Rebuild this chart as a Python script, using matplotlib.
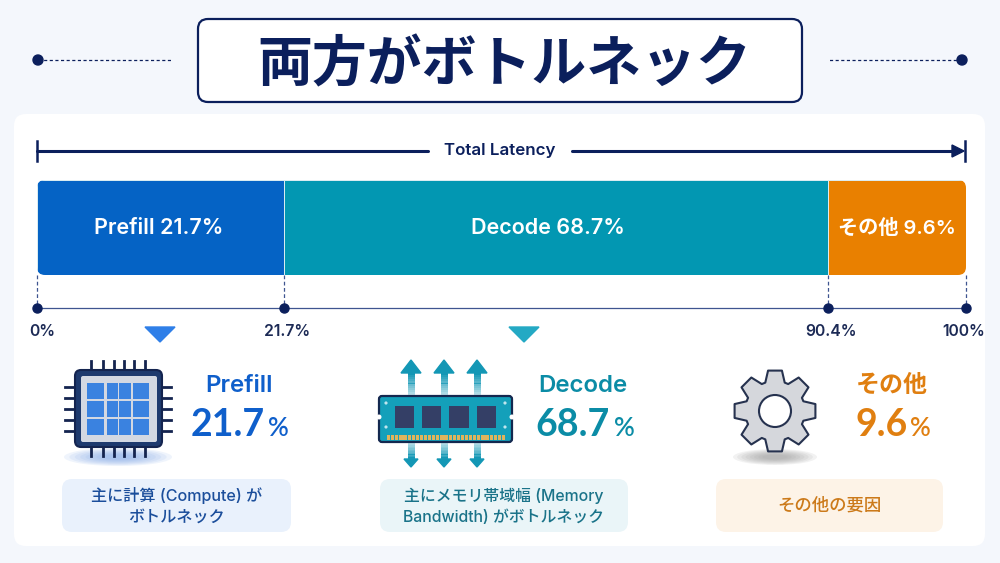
import numpy as np
import matplotlib
matplotlib.use("Agg")
import matplotlib.pyplot as plt
from matplotlib.patches import FancyBboxPatch, Rectangle, Ellipse, Circle, Polygon

plt.rcParams['font.family'] = ['Noto Sans CJK JP', 'DejaVu Sans']
LATIN = ['Inter', 'Noto Sans CJK JP', 'DejaVu Sans']
DIGITS = ['Lato', 'Noto Sans CJK JP', 'DejaVu Sans']

# Data
title = "両方がボトルネック"
total_label = "Total Latency"
names = ["Prefill", "Decode", "その他"]
percent_labels = ["21.7", "68.7", "9.6"]
# widths as drawn in the bar (the picture does not draw them to scale)
drawn_widths = [26.6, 58.5, 14.9]
tick_labels = ["0%", "21.7%", "90.4%", "100%"]
notes = ["主に計算 (Compute) が\nボトルネック",
         "主にメモリ帯域幅 (Memory\nBandwidth) がボトルネック",
         "その他の要因"]

# Colours
BG = "#F4F7FC"
NAVY = "#0B1F5C"
bar_colors = ["#0563C5", "#0297B2", "#E98000"]
text_colors = ["#0F5FCB", "#0B8CA6", "#E07F10"]
note_bg = ["#E9F1FC", "#EAF5F8", "#FDF3E7"]
note_fg = ["#1B4E9B", "#1A7389", "#CC7A1A"]
tri_colors = ["#2F7FE8", "#24A9C4"]

fig = plt.figure(figsize=(10, 5.63), dpi=100, facecolor=BG)

# Pixel canvas for everything decorative
bg = fig.add_axes([0, 0, 1, 1], zorder=0)
bg.set_xlim(0, 1000)
bg.set_ylim(563, 0)
bg.axis('off')


def round_box(x0, y0, x1, y1, r, **kw):
    p = FancyBboxPatch((x0 + r, y0 + r), x1 - x0 - 2 * r, y1 - y0 - 2 * r,
                       boxstyle=f"round,pad={r},rounding_size={r}", **kw)
    bg.add_patch(p)
    return p


# Header
round_box(198, 19, 802, 102, 10, fc="white", ec=NAVY, lw=1.6)
bg.text(504, 65, title, ha='center', va='center', fontsize=39.5, fontweight='bold', color=NAVY)
for x_dot, x_end in [(38, 173), (962, 827)]:
    bg.plot([x_dot, x_end], [60, 60], color=NAVY, lw=0.9, ls=(0, (2.5, 2)))
    bg.add_patch(Circle((x_dot, 60), 5, color=NAVY))

# White panel
round_box(14, 114, 985, 546, 12, fc="white", ec="none")

# Total latency arrow
bg.plot([37, 428], [151, 151], color=NAVY, lw=2.2, solid_capstyle='round')
bg.plot([572, 958], [151, 151], color=NAVY, lw=2.2, solid_capstyle='round')
bg.plot([37, 37], [141, 161], color=NAVY, lw=1.8)
bg.plot([965, 965], [141, 161], color=NAVY, lw=1.8)
bg.add_patch(Polygon([[952, 145], [964, 151], [952, 157]], color=NAVY))
bg.text(500, 151, total_label, ha='center', va='center', fontsize=12.2, fontweight='semibold',
        color=NAVY, family=LATIN)

# Stacked bar, with its own axes: bottom spine is the scale line
ax = fig.add_axes([37 / 1000, 1 - 308 / 563, 929 / 1000, 128 / 563], zorder=1)
ax.patch.set_alpha(0)
ax.set_xlim(0, 100)
ax.set_ylim(308, 180)
ax.set_yticks([])
ax.set_xticks([])
for side in ['top', 'left', 'right']:
    ax.spines[side].set_visible(False)
ax.spines['bottom'].set_color("#3F5590")
ax.spines['bottom'].set_linewidth(0.9)

clip = round_box(37, 180, 966, 275, 8, fc="none", ec="none")
edges = np.concatenate([[0], np.cumsum(drawn_widths)])
bars = ax.barh(227.5, drawn_widths, height=95, left=edges[:-1], color=bar_colors,
               edgecolor="#DDEEF2", linewidth=0.7)
for b in bars:
    b.set_clip_path(clip)
bar_text_shift = [-2, -8, 0]
bar_text_size = [15.5, 15.5, 14.5]
for i, name in enumerate(names):
    cx = edges[i] + drawn_widths[i] / 2
    ax.annotate(f"{name} {percent_labels[i]}%", (cx, 228), xytext=(bar_text_shift[i], 0),
                textcoords='offset pixels', ha='center', va='center',
                fontsize=bar_text_size[i], fontweight='semibold', color="white", family=LATIN)

label_shift = [5, 3, 3, -2]
for i, e in enumerate(edges):
    ax.plot([e, e], [275, 308], color="#3F5590", lw=0.9, ls=(0, (3, 2)), clip_on=False)
    ax.plot([e], [308], 'o', ms=6.5, color=NAVY, clip_on=False, zorder=5)
    ax.annotate(tick_labels[i], (e, 308), xytext=(label_shift[i], -24), textcoords='offset pixels',
                ha='center', va='center', fontsize=11.3, fontweight='semibold', color="#1C2A55",
                annotation_clip=False, family=LATIN)

# Markers under the bar
for cx, col in zip([160, 524], tri_colors):
    bg.add_patch(Polygon([[cx - 15, 327], [cx + 15, 327], [cx, 342]], color=col))


def soft_shadow(cx, cy, w, h, col):
    for k in np.linspace(1, 0.3, 8):
        bg.add_patch(Ellipse((cx, cy), w * k, h * k, fc=col, ec="none", alpha=0.12))


# Chip icon
soft_shadow(118, 457, 108, 18, "#7FA8E8")
for x in [91, 103, 114, 124, 134, 145]:
    bg.plot([x, x], [361, 456], color="#14244F", lw=2)
for y in [387, 398, 409, 420, 431]:
    bg.plot([65, 171], [y, y], color="#14244F", lw=2)
round_box(75, 370, 162, 447, 6, fc="#1E3A6E", ec="#14244F", lw=1.5, zorder=2)
round_box(81, 376, 157, 442, 2, fc="#D3D8E2", ec="none", zorder=3)
for y0, y1 in [(383, 399), (401, 417), (419, 435)]:
    for x0, x1 in [(87, 104), (107, 118), (119, 131), (133, 149)]:
        bg.add_patch(Rectangle((x0, y0), x1 - x0, y1 - y0, fc="#3A82E0", ec="none", zorder=4))

# RAM icon
TEAL = "#1397B5"
for x in [411, 444, 477]:
    for t in np.linspace(0, 1, 12):
        y0 = 373 + t * 23
        bg.add_patch(Rectangle((x - 3.5, y0), 7, 23 / 12 + 0.3, fc=TEAL, ec="none",
                               alpha=1 - 0.8 * t))
        y1 = 442 + t * 17
        bg.add_patch(Rectangle((x - 3.5, y1), 7, 17 / 12 + 0.3, fc=TEAL, ec="none",
                               alpha=0.3 + 0.7 * t))
    bg.add_patch(Polygon([[x - 10, 373], [x + 10, 373], [x, 360]], color=TEAL))
    bg.add_patch(Polygon([[x - 7, 459], [x + 7, 459], [x, 467]], color=TEAL))
round_box(379, 396, 512, 442, 3, fc="#14A0BA", ec="#14284F", lw=1.6, zorder=2)
for x0, x1 in [(395, 414), (422, 441), (449, 469), (477, 496)]:
    bg.add_patch(Rectangle((x0, 406), x1 - x0, 22, fc="#343F66", ec="none", zorder=3))
for x in np.arange(387, 504, 4.1):
    bg.add_patch(Rectangle((x, 435), 3.2, 5, fc="#E0B45C", ec="none", zorder=3))
for x, y in [(386, 403), (505, 403), (386, 427), (505, 427)]:
    bg.add_patch(Circle((x, y), 1.6, fc="#BFE6EE", ec="none", zorder=3))
for x in [379, 512]:
    bg.add_patch(Circle((x, 417), 2.5, fc="white", ec="none", zorder=3))

# Gear icon
soft_shadow(775, 457, 84, 16, "#9A9A9A")
n_teeth = 8
pts = []
for i in range(n_teeth):
    a = -np.pi / 2 + i * 2 * np.pi / n_teeth
    for da, r in [(-0.33, 30), (-0.17, 41), (0.17, 41), (0.33, 30)]:
        pts.append([775 + r * np.cos(a + da), 411 + r * np.sin(a + da)])
bg.add_patch(Polygon(pts, closed=True, fc="#D5D7DC", ec="#26324F", lw=1.5, joinstyle='round'))
bg.add_patch(Circle((775, 411), 16, fc="white", ec="#26324F", lw=1.5))

# Stat text beside each icon
name_x = [239, 583, 892]
num_right = [265, 610, 908]
pct_left = [268, 614, 910]
for i, name in enumerate(names):
    bg.text(name_x[i], 386, name, ha='center', va='center', fontsize=17.3, fontweight='semibold',
            color=text_colors[i], family=LATIN)
    bg.text(num_right[i], 425, percent_labels[i], ha='right', va='center', fontsize=27, fontweight='bold',
            color=text_colors[i], family=DIGITS)
    bg.text(pct_left[i], 428, "%", ha='left', va='center', fontsize=18.5, fontweight='semibold',
            color=text_colors[i], family=DIGITS)

# Note boxes
note_boxes = [(62, 291), (380, 628), (716, 943)]
note_size = [11.6, 11.4, 12.5]
for i, (x0, x1) in enumerate(note_boxes):
    round_box(x0, 479, x1, 532, 10, fc=note_bg[i], ec="none")
    bg.text((x0 + x1) / 2, 506, notes[i], ha='center', va='center', fontsize=note_size[i], fontweight='medium',
            color=note_fg[i], linespacing=1.45, family=LATIN)

fig.savefig("out.png", dpi=100, facecolor=BG)
